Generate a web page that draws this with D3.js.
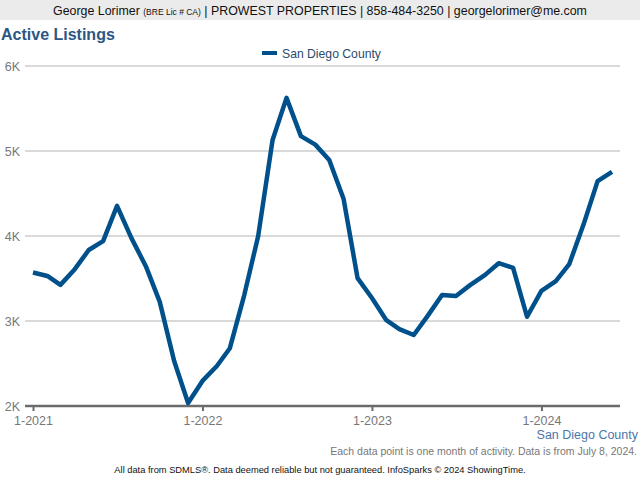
<!DOCTYPE html>
<html><head><meta charset="utf-8">
<script src="https://cdn.jsdelivr.net/npm/d3@7/dist/d3.min.js"></script>
<style>body{margin:0;background:#fff}svg{display:block}text{font-family:"Liberation Sans",Arial,Helvetica,sans-serif}</style>
</head><body><svg id="c" width="640" height="480"></svg>
<script>
const months = d3.range(42).map(i => new Date(2021, i, 1));
const seriesName = "San Diego County";
const values = [3570,3530,3425,3610,3835,3940,4355,3975,3645,3225,2530,2035,
  2295,2470,2680,3305,4000,5130,5625,5175,5075,4895,4435,3505,
  3270,3010,2905,2835,3060,3305,3295,3425,3540,3680,3625,3050,
  3355,3470,3670,4140,4645,4755];
const yTicks = [2000,3000,4000,5000,6000];
const xTicks = [new Date(2021,0,1),new Date(2022,0,1),new Date(2023,0,1),new Date(2024,0,1)];

const svg = d3.select("#c");
svg.append("rect").attr("x",0).attr("y",0).attr("width",640).attr("height",20).attr("fill","#ebebeb");
const hdr = svg.append("text").attr("x",320).attr("y",15).attr("text-anchor","middle").attr("font-size",12.4).attr("fill","#111");
hdr.append("tspan").text("George Lorimer ");
hdr.append("tspan").attr("font-size",8.5).text("(BRE Lic # CA)");
hdr.append("tspan").text(" | PROWEST PROPERTIES | 858-484-3250 | georgelorimer@me.com");

svg.append("text").attr("x",1).attr("y",40).attr("font-size",16).attr("font-weight","bold").attr("fill","#2c5684").text("Active Listings");

svg.append("rect").attr("x",262).attr("y",51).attr("width",15).attr("height",4).attr("fill","#00508c");
svg.append("text").attr("x",282).attr("y",58).attr("font-size",12.2).attr("fill","#2c4a6e").text(seriesName);

const x = d3.scaleTime().domain([months[0], months[41]]).range([33, 612]);
const y = d3.scaleLinear().domain([2000,6000]).range([406,66]);

const grid = svg.append("g");
grid.selectAll("line").data(yTicks.slice(1)).join("line")
  .attr("x1",25).attr("x2",620).attr("y1",d=>y(d)).attr("y2",d=>y(d))
  .attr("stroke","#b3b3b3").attr("stroke-width",1.2);

const yAxis = svg.append("g").attr("transform","translate(20,0)")
  .call(d3.axisLeft(y).tickValues(yTicks).tickSize(0).tickFormat(d=>(d/1000)+"K"));
yAxis.select(".domain").remove();
yAxis.selectAll("text").attr("font-size",12.5).attr("fill","#777").attr("dy","0.35em").attr("x",0);

svg.append("line").attr("x1",25).attr("x2",620).attr("y1",406).attr("y2",406).attr("stroke","#6b6b6b").attr("stroke-width",2.5);
const xAxis = svg.append("g").attr("transform","translate(0,406)")
  .call(d3.axisBottom(x).tickValues(xTicks).tickSize(5).tickFormat(d=>"1-"+d.getFullYear()));
xAxis.select(".domain").remove();
xAxis.selectAll("line").attr("stroke","#6b6b6b").attr("stroke-width",2);
xAxis.selectAll("text").attr("font-size",12.5).attr("fill","#777").attr("y",10).attr("dy","0.71em");

svg.append("path").datum(values)
  .attr("fill","none").attr("stroke","#00508c").attr("stroke-width",4.5).attr("stroke-linejoin","round")
  .attr("d", d3.line().x((d,i)=>x(months[i])).y(d=>y(d)));

svg.append("text").attr("x",638).attr("y",439).attr("text-anchor","end").attr("font-size",12.5).attr("fill","#4a77aa").text(seriesName);
svg.append("text").attr("x",637).attr("y",455).attr("text-anchor","end").attr("font-size",10.5).attr("fill","#777").text("Each data point is one month of activity. Data is from July 8, 2024.");
svg.append("text").attr("x",320).attr("y",473).attr("text-anchor","middle").attr("font-size",9.3).attr("fill","#111").text("All data from SDMLS®. Data deemed reliable but not guaranteed. InfoSparks © 2024 ShowingTime.");
</script></body></html>
